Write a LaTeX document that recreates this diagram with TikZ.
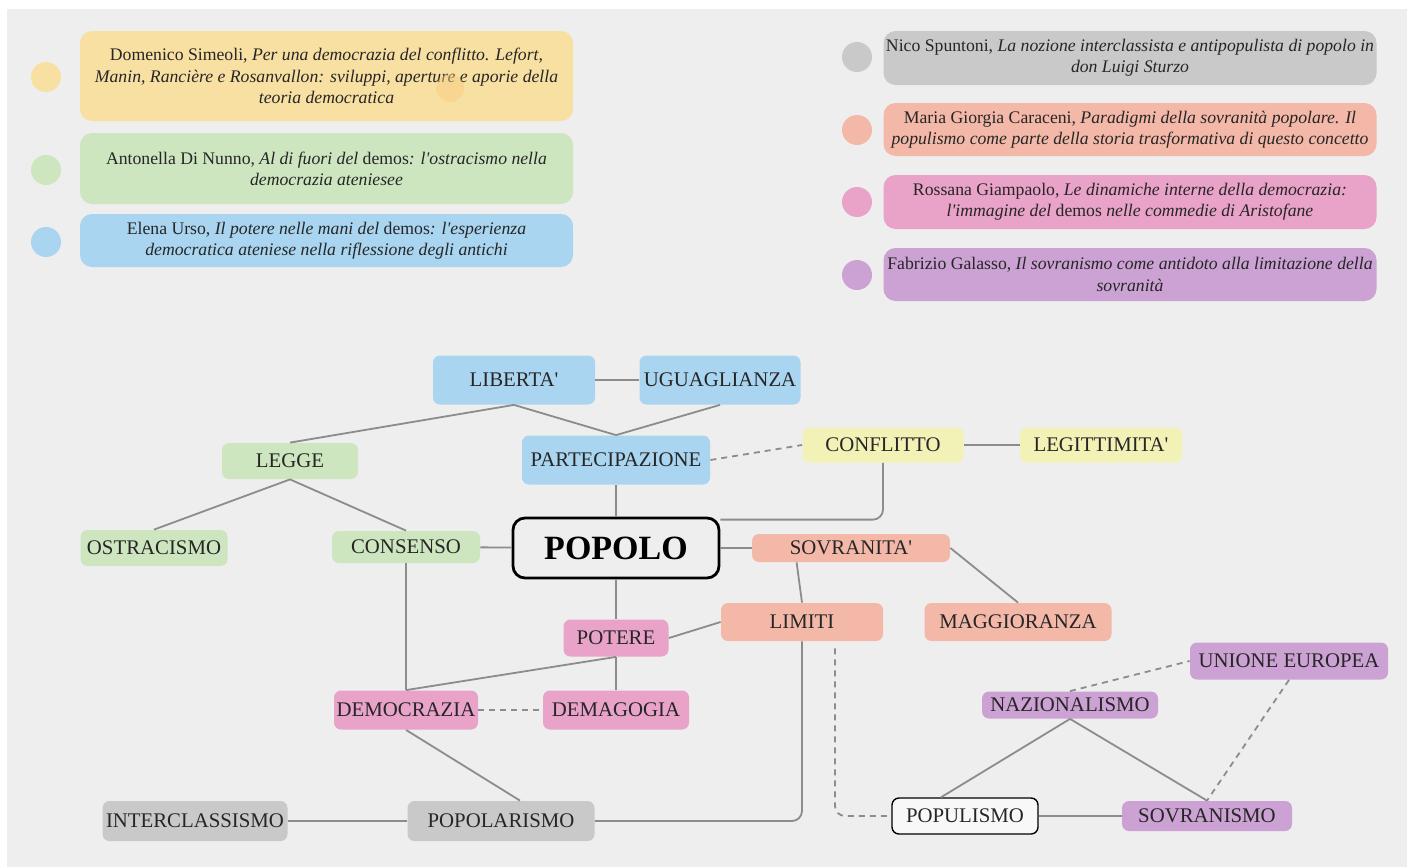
\documentclass[tikz,border=0pt]{standalone}
\usepackage{fontspec}
\setmainfont{Liberation Serif}
\usetikzlibrary{positioning}

\definecolor{sfondo}{HTML}{EEEEEE}
\definecolor{linea}{HTML}{8C8C8C}
\definecolor{giallo}{HTML}{F8E0A2}
\definecolor{giallino}{HTML}{F2F2B6}
\definecolor{verde}{HTML}{CDE6C0}
\definecolor{azzurro}{HTML}{A9D5F0}
\definecolor{grigio}{HTML}{C9C9C9}
\definecolor{salmone}{HTML}{F4B8A8}
\definecolor{rosa}{HTML}{E9A2C8}
\definecolor{viola}{HTML}{CBA2D3}

\newcommand{\ap}{\textquotesingle}

\tikzset{
  concetto/.style={rectangle, rounded corners=3.5pt, inner sep=0pt, text=black!85,
    font=\fontsize{10.4}{12}\selectfont},
  legenda/.style={rectangle, rounded corners=6pt, inner sep=0pt, align=center,
    minimum width=246.5pt, text=black!85, font=\fontsize{8.85}{10.6}\selectfont},
  pallino/.style={circle, inner sep=0pt, minimum size=15pt},
  link/.style={draw=linea, line width=0.9pt},
  dlink/.style={link, dash pattern=on 3pt off 2.5pt},
}

\begin{document}
\begin{tikzpicture}[x=0.5pt, y=-0.5pt]
  \useasboundingbox (0,0) rectangle (1407,867);
  \fill[sfondo] (7,9) rectangle (1407,867);

  % legenda sinistra
  \node[legenda, fill=giallo, minimum height=45pt] (simeoli) at (326.5,76)
    {Domenico Simeoli, \textit{Per una democrazia del conflitto. Lefort,}\\
     \textit{Manin, Rancière e Rosanvallon: sviluppi, aperture e aporie della}\\
     \textit{teoria democratica}};
  \fill[giallo!80!orange, opacity=0.5] (450,88) circle (7pt);
  \node[legenda, fill=verde, minimum height=35.5pt] (dinunno) at (326.5,168.5)
    {Antonella Di Nunno, \textit{Al di fuori del} demos\textit{: l\ap ostracismo nella}\\
     \textit{democrazia ateniesee}};
  \node[legenda, fill=azzurro, minimum height=26.5pt] (urso) at (326.5,240.5)
    {Elena Urso, \textit{Il potere nelle mani del} demos\textit{: l\ap esperienza}\\
     \textit{democratica ateniese nella riflessione degli antichi}};
  \node[pallino, fill=giallo] (p1) at (46,77) {};
  \node[pallino, fill=verde] (p2) at (46,170) {};
  \node[pallino, fill=azzurro] (p3) at (46,242) {};

  % legenda destra
  \node[legenda, fill=grigio, minimum height=27pt] (spuntoni) at (1130,58)
    {Nico Spuntoni, \textit{La nozione interclassista e antipopulista di popolo in}\\
     \textit{don Luigi Sturzo}};
  \node[legenda, fill=salmone, minimum height=26.5pt] (caraceni) at (1130,129.5)
    {Maria Giorgia Caraceni, \textit{Paradigmi della sovranità popolare. Il}\\
     \textit{populismo come parte della storia trasformativa di questo concetto}};
  \node[legenda, fill=rosa, minimum height=27pt] (giampaolo) at (1130,202)
    {Rossana Giampaolo, \textit{Le dinamiche interne della democrazia:}\\
     \textit{l\ap immagine del} demos \textit{nelle commedie di Aristofane}};
  \node[legenda, fill=viola, minimum height=26.5pt] (galasso) at (1130,274.5)
    {Fabrizio Galasso, \textit{Il sovranismo come antidoto alla limitazione della}\\
     \textit{sovranità}};
  \node[pallino, fill=grigio] (p4) at (857,57) {};
  \node[pallino, fill=salmone] (p5) at (857,130) {};
  \node[pallino, fill=rosa] (p6) at (857,202) {};
  \node[pallino, fill=viola] (p7) at (857,275) {};

  % mappa
  \node[concetto, fill=azzurro, minimum width=81pt, minimum height=24.5pt] (liberta) at (514,380) {LIBERTA\ap};
  \node[concetto, fill=azzurro, minimum width=80.5pt, minimum height=24.5pt] (uguaglianza) at (720,380) {UGUAGLIANZA};
  \node[concetto, fill=azzurro, minimum width=94pt, minimum height=24.5pt] (partecipazione) at (616,460) {PARTECIPAZIONE};
  \node[concetto, fill=verde, minimum width=68pt, minimum height=18pt] (legge) at (290,461) {LEGGE};
  \node[concetto, fill=giallino, minimum width=80.5pt, minimum height=17.5pt] (conflitto) at (883,445) {CONFLITTO};
  \node[concetto, fill=giallino, minimum width=81pt, minimum height=17.5pt] (legittimita) at (1101,445) {LEGITTIMITA\ap};
  \node[concetto, fill=verde, minimum width=73.5pt, minimum height=18pt] (ostracismo) at (154,548) {OSTRACISMO};
  \node[concetto, fill=verde, minimum width=74pt, minimum height=16pt] (consenso) at (406,547) {CONSENSO};
  \node[concetto, draw=black, line width=1.4pt, rounded corners=6pt, minimum width=103pt, minimum height=30pt,
    font=\fontsize{17}{20}\selectfont\bfseries, text=black] (popolo) at (616,548) {POPOLO};
  \node[concetto, fill=salmone, minimum width=99pt, minimum height=14pt] (sovranita) at (851,548) {SOVRANITA\ap};
  \node[concetto, fill=salmone, minimum width=81pt, minimum height=19pt] (limiti) at (802,622) {LIMITI};
  \node[concetto, fill=salmone, minimum width=93.5pt, minimum height=19pt] (maggioranza) at (1018,622) {MAGGIORANZA};
  \node[concetto, fill=rosa, minimum width=52.5pt, minimum height=18.5pt] (potere) at (616,638) {POTERE};
  \node[concetto, fill=rosa, minimum width=72pt, minimum height=19.5pt] (democrazia) at (406,710) {DEMOCRAZIA};
  \node[concetto, fill=rosa, minimum width=73pt, minimum height=19.5pt] (demagogia) at (616,710) {DEMAGOGIA};
  \node[concetto, fill=grigio, minimum width=92.5pt, minimum height=20pt] (interclassismo) at (195,821) {INTERCLASSISMO};
  \node[concetto, fill=grigio, minimum width=93.5pt, minimum height=20pt] (popolarismo) at (501,821) {POPOLARISMO};
  \node[concetto, fill=viola, minimum width=99pt, minimum height=18.5pt] (unione) at (1289,661) {UNIONE EUROPEA};
  \node[concetto, fill=viola, minimum width=88pt, minimum height=13.5pt] (nazionalismo) at (1070,705) {NAZIONALISMO};
  \node[concetto, fill=white!60!sfondo, draw=black, line width=0.7pt, minimum width=73pt, minimum height=18pt] (populismo) at (965,816) {POPULISMO};
  \node[concetto, fill=viola, minimum width=85pt, minimum height=15pt] (sovranismo) at (1207,816) {SOVRANISMO};

  % collegamenti
  \draw[link] (liberta) -- (uguaglianza);
  \draw[link] (liberta.south) -- (legge.north);
  \draw[link] (liberta.south) -- (partecipazione.north);
  \draw[link] (uguaglianza.south) -- (partecipazione.north);
  \draw[link] (legge.south) -- (ostracismo.north);
  \draw[link] (legge.south) -- (consenso.north);
  \draw[link] (partecipazione) -- (popolo);
  \draw[dlink] (partecipazione.east) -- (conflitto.west);
  \draw[link] (conflitto) -- (legittimita);
  \draw[link, rounded corners=5pt] (conflitto.south) |- ([yshift=-1.5pt]popolo.north east);
  \draw[link] (consenso) -- (popolo);
  \draw[link] (popolo) -- (sovranita);
  \draw[link] (popolo) -- (potere);
  \draw[link] (consenso) -- (democrazia);
  \draw[link] (potere.south) -- (democrazia.north);
  \draw[link] (potere) -- (demagogia);
  \draw[link] (potere.east) -- (limiti.west);
  \draw[dlink] (democrazia) -- (demagogia);
  \draw[link] (democrazia.south) -- ([xshift=9.5pt]popolarismo.north);
  \draw[link] (interclassismo) -- (popolarismo);
  \draw[link, rounded corners=5pt] (popolarismo.east) -| (limiti.south);
  \draw[link] ([xshift=22.5pt]sovranita.south west) -- (limiti.north);
  \draw[link] (sovranita.east) -- (maggioranza.north);
  \draw[dlink, rounded corners=5pt] ([xshift=16.5pt,yshift=-3.5pt]limiti.south) |- (populismo.west);
  \draw[link] (nazionalismo.south) -- ([xshift=-12pt]populismo.north);
  \draw[link] (nazionalismo.south) -- (sovranismo.north);
  \draw[link] (populismo) -- (sovranismo);
  \draw[dlink] (nazionalismo.north) -- (unione.west);
  \draw[dlink] (unione.south) -- (sovranismo.north);
\end{tikzpicture}
\end{document}
